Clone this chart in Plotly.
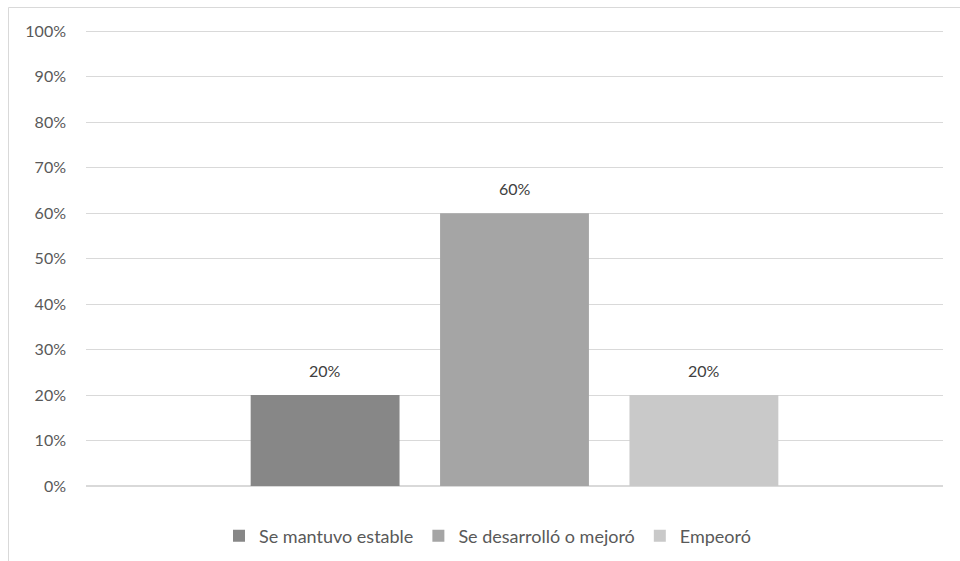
import plotly.graph_objects as go

categories = ["Total"]
series_names = ["Se mantuvo estable", "Se desarrolló o mejoró", "Empeoró"]
series_values = [[0.20], [0.60], [0.20]]
colors = ["#878787", "#a5a5a5", "#c9c9c9"]
tick_vals = [i / 10 for i in range(11)]
tick_text = [f"{i*10}%" for i in range(11)]

W, H = 960, 561
L, R, T, B = 86, 17, 30, 75
pw, ph = W - L - R, H - T - B
BARGAP, GROUPGAP = 0.337, 0.214
FONT = "Lato"

fig = go.Figure()
for name, vals, col in zip(series_names, series_values, colors):
    fig.add_trace(go.Bar(
        x=categories, y=vals, name=name, marker=dict(color=col, line=dict(width=0)),
    ))

slot_px = pw * (1 - BARGAP) / len(series_names)
annotations = []
for i, vals in enumerate(series_values):
    for c, v in zip(categories, vals):
        annotations.append(dict(
            x=c, y=v, xref="x", yref="y", text=f"{v*100:.0f}%", showarrow=False,
            xshift=(i - (len(series_names) - 1) / 2) * slot_px, yshift=13, yanchor="bottom",
            font=dict(family=FONT, size=16, color="#404040"),
        ))

fig.update_layout(
    width=W, height=H, margin=dict(l=L, r=R, t=T, b=B, autoexpand=False),
    paper_bgcolor="white", plot_bgcolor="white",
    barmode="group", bargap=BARGAP, bargroupgap=GROUPGAP,
    font=dict(family=FONT, color="#595959", size=16),
    showlegend=True, annotations=annotations,
    legend=dict(orientation="h", x=(219 - L) / pw, xanchor="left", y=(486 - 536) / ph, yanchor="middle",
                font=dict(size=18, color="#595959"), traceorder="normal", itemwidth=30),
    xaxis=dict(type="category", showticklabels=False, showgrid=False, showline=False, zeroline=False),
    yaxis=dict(range=[0, 1.003], tickvals=tick_vals, ticktext=tick_text, showgrid=True,
               gridcolor="#d9d9d9", gridwidth=1, zeroline=True, zerolinecolor="#d9d9d9",
               showline=False, ticks="", ticklabelstandoff=19, tickfont=dict(size=16, color="#595959")),
    shapes=[dict(type="rect", xref="paper", yref="paper",
                 x0=(8.5 - L) / pw, x1=(W + 5 - L) / pw,
                 y0=(H - B - (H + 5)) / ph, y1=(H - B - 7.5) / ph,
                 line=dict(color="#d9d9d9", width=1), fillcolor="rgba(0,0,0,0)", layer="below")],
)

fig.write_html("out.html")
